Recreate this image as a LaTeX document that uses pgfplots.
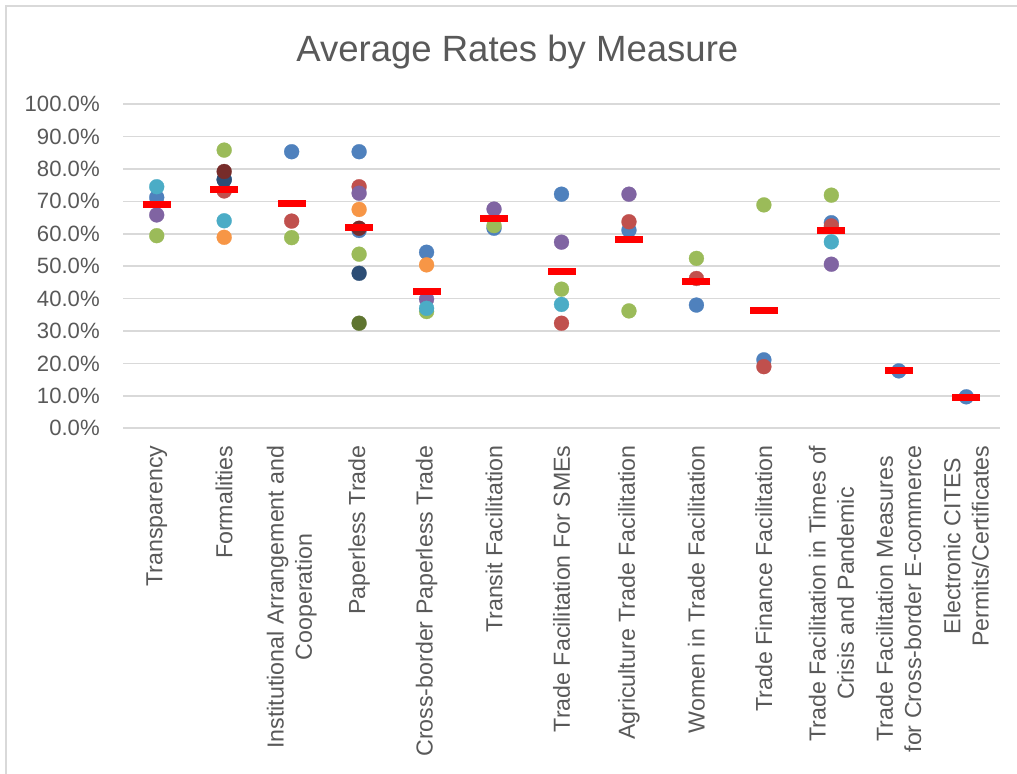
\documentclass[border=0pt]{standalone}
\usepackage{pgfplots}
\pgfplotsset{compat=1.18}
\usepackage{fontspec}
\setmainfont{Liberation Sans}

\definecolor{txt}{HTML}{595959}
\definecolor{grd}{HTML}{D9D9D9}
\definecolor{cBlue}{HTML}{4F81BD}
\definecolor{cRed}{HTML}{C0504D}
\definecolor{cGreen}{HTML}{9BBB59}
\definecolor{cPurple}{HTML}{8064A2}
\definecolor{cAqua}{HTML}{4BACC6}
\definecolor{cOrange}{HTML}{F79646}
\definecolor{cDBlue}{HTML}{2C4D75}
\definecolor{cDRed}{HTML}{772C2A}
\definecolor{cDGreen}{HTML}{5F7530}

\pgfplotsset{
  dot/.style={only marks, mark=*, mark size=5.6pt, color=#1,
    mark options={draw=#1, fill=#1, line width=0.2pt}},
}

\begin{document}
\begin{tikzpicture}
% page = 1017 x 774 px at 0.75pt per px
\path[use as bounding box] (0,0) rectangle (762.75pt,580.5pt);
\draw[grd, line width=1.5pt] (4.5pt,0) -- (4.5pt,576pt) -- (762.75pt,576pt);

\node[anchor=base, text=txt, font=\fontsize{27.4}{32}\selectfont]
  at (388pt,534.2pt) {Average Rates by Measure};

\begin{axis}[
  at={(92.25pt,259.3pt)}, anchor=south west,
  scale only axis,
  width=657.75pt, height=243.15pt,
  xmin=-0.5, xmax=12.5,
  ymin=0, ymax=100,
  axis line style={draw=none},
  major tick length=0pt,
  clip=false,
  ymajorgrids,
  grid style={grd, line width=1.2pt},
  ytick={0,10,...,100},
  yticklabels={0.0\%,10.0\%,20.0\%,30.0\%,40.0\%,50.0\%,60.0\%,70.0\%,80.0\%,90.0\%,100.0\%},
  yticklabel style={anchor=east, inner sep=0pt, text=txt,
    font=\fontsize{16.6}{19}\selectfont},
  yticklabel shift=17.25pt,
  xtick={0,1,...,12},
  xticklabels={
    Transparency,
    Formalities,
    Institutional Arrangement and\\Cooperation,
    Paperless Trade,
    Cross-border Paperless Trade,
    Transit Facilitation,
    Trade Facilitation For SMEs,
    Agriculture Trade Facilitation,
    Women in Trade Facilitation,
    Trade Finance Facilitation,
    Trade Facilitation in Times of\\Crisis and Pandemic,
    Trade Facilitation Measures\\for Cross-border E-commerce,
    Electronic CITES\\Permits/Certificates},
  xticklabel style={rotate=90, anchor=east, align=center, inner sep=0pt,
    text=txt, font=\fontsize{17.4}{21.2}\selectfont},
  xticklabel shift=12.75pt,
]

\addplot[dot=cBlue] coordinates {
  (0,71.2) (1,76.8) (2,85.3) (3,85.3) (3,61.0) (4,54.3) (5,61.7)
  (6,72.2) (7,61.1) (8,38.0) (9,21.1) (10,63.4) (11,17.7) (12,9.7)};
\addplot[dot=cRed] coordinates {
  (1,73.2) (2,63.9) (3,74.5) (6,32.4) (7,63.7) (8,46.2) (9,19.0) (10,62.4)};
\addplot[dot=cGreen] coordinates {
  (0,59.4) (1,85.8) (2,58.8) (3,53.7) (4,36.0) (5,62.5) (6,42.9)
  (7,36.2) (8,52.4) (9,68.9) (10,71.9)};
\addplot[dot=cPurple] coordinates {
  (0,65.8) (3,72.5) (4,39.8) (5,67.6) (6,57.4) (7,72.2) (10,50.6)};
\addplot[dot=cAqua] coordinates {
  (0,74.5) (1,64.0) (4,37.0) (6,38.2) (10,57.5)};
\addplot[dot=cOrange] coordinates {
  (1,58.9) (3,67.5) (4,50.4)};
\addplot[dot=cDBlue] coordinates {
  (1,76.6) (3,47.8)};
\addplot[dot=cDRed] coordinates {
  (1,79.2) (3,61.7)};
\addplot[dot=cDGreen] coordinates {
  (3,32.4)};

% averages
\addplot[only marks, mark=-, mark size=10.5pt, color=red,
  mark options={line width=5.25pt}] coordinates {
  (0,69.1) (1,73.7) (2,69.4) (3,61.9) (4,42.1) (5,64.8) (6,48.5)
  (7,58.2) (8,45.4) (9,36.3) (10,61.0) (11,17.7) (12,9.4)};
\end{axis}
\end{tikzpicture}
\end{document}
